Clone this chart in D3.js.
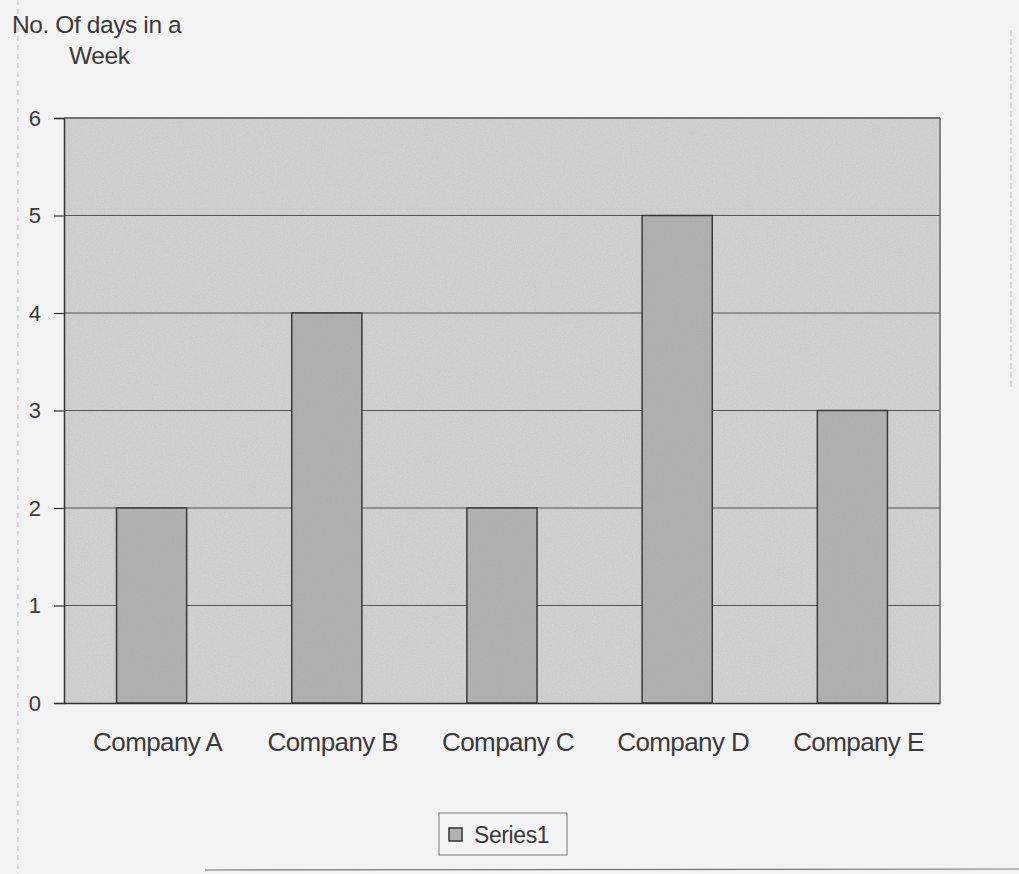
<!DOCTYPE html>
<html>
<head>
<meta charset="utf-8">
<script src="https://cdn.jsdelivr.net/npm/d3@7"></script>
<style>
  body { margin: 0; background: #f3f3f3; }
  svg { display: block; }
  text { font-family: "Liberation Sans", Arial, sans-serif; fill: #3a3a3a; }
</style>
</head>
<body>
<svg width="1019" height="874"></svg>
<script>
// chart data
const companies = ['Company A', 'Company B', 'Company C', 'Company D', 'Company E']
const days = [2, 4, 2, 5, 3]
const yTicks = [0, 1, 2, 3, 4, 5, 6]
const seriesName = 'Series1'

const svg = d3.select('svg')

// plot area box
const plotLeft = 64, plotRight = 940, plotTop = 118, plotBottom = 703

const x = d3.scaleBand()
  .domain(companies)
  .range([plotLeft, plotRight])
  .paddingInner(0.6)
  .paddingOuter(0.3)

const y = d3.scaleLinear()
  .domain([0, 6])
  .range([plotBottom, plotTop])

// faint page edges from the scan
svg.append('line')
  .attr('x1', 18).attr('x2', 18).attr('y1', 0).attr('y2', 874)
  .style('stroke', '#bbb').style('stroke-dasharray', '5,4')
svg.append('line')
  .attr('x1', 205).attr('x2', 1019).attr('y1', 870).attr('y2', 869)
  .style('stroke', '#777').style('stroke-width', 1.2)
svg.append('line')
  .attr('x1', 1011).attr('x2', 1011).attr('y1', 30).attr('y2', 390)
  .style('stroke', '#bbb').style('stroke-dasharray', '6,3')

// noise filter to mimic the photocopy grain
const defs = svg.append('defs')
const grain = defs.append('filter').attr('id', 'grain')
grain.append('feTurbulence')
  .attr('type', 'fractalNoise').attr('baseFrequency', 0.9).attr('numOctaves', 2).attr('result', 'n')
grain.append('feColorMatrix')
  .attr('type', 'matrix')
  .attr('values', '0 0 0 0 0.3  0 0 0 0 0.3  0 0 0 0 0.3  0 0 0 0.25 0')
  .attr('result', 'm')
grain.append('feComposite').attr('in', 'm').attr('in2', 'SourceGraphic').attr('operator', 'in')

// plot background
svg.append('rect')
  .attr('x', plotLeft).attr('y', plotTop)
  .attr('width', plotRight - plotLeft).attr('height', plotBottom - plotTop)
  .style('fill', '#d6d6d6')
svg.append('rect')
  .attr('x', plotLeft).attr('y', plotTop)
  .attr('width', plotRight - plotLeft).attr('height', plotBottom - plotTop)
  .style('fill', '#d6d6d6')
  .attr('filter', 'url(#grain)')

// gridlines
svg.append('g')
  .selectAll('line')
  .data(yTicks.filter(d => d > 0))
  .enter()
  .append('line')
  .attr('x1', plotLeft).attr('x2', plotRight)
  .attr('y1', d => y(d)).attr('y2', d => y(d))
  .style('stroke', '#555').style('stroke-width', 1.2)

// bars
const bars = svg.append('g')
  .selectAll('g.bar')
  .data(companies)
  .enter()
  .append('g')
  .attr('class', 'bar')

bars.append('rect')
  .attr('x', d => x(d))
  .attr('y', (d, i) => y(days[i]))
  .attr('width', x.bandwidth())
  .attr('height', (d, i) => plotBottom - y(days[i]))
  .style('fill', '#b3b3b3')
  .style('stroke', '#333')
  .style('stroke-width', 1.5)
bars.append('rect')
  .attr('x', d => x(d))
  .attr('y', (d, i) => y(days[i]))
  .attr('width', x.bandwidth())
  .attr('height', (d, i) => plotBottom - y(days[i]))
  .style('fill', '#b3b3b3')
  .attr('filter', 'url(#grain)')

// plot frame: top and right edges
svg.append('line')
  .attr('x1', plotLeft).attr('x2', plotRight).attr('y1', plotTop).attr('y2', plotTop)
  .style('stroke', '#666').style('stroke-width', 1.5)
svg.append('line')
  .attr('x1', plotRight).attr('x2', plotRight).attr('y1', plotTop).attr('y2', plotBottom)
  .style('stroke', '#666').style('stroke-width', 1.5)

// y axis
const yAxis = svg.append('g')
  .attr('transform', `translate(${plotLeft},0)`)
  .call(d3.axisLeft(y).tickValues(yTicks).tickFormat(d3.format('d')).tickSize(10).tickPadding(13))
yAxis.select('.domain').style('stroke', '#333').style('stroke-width', 1.5)
yAxis.selectAll('.tick line').style('stroke', '#333').style('stroke-width', 1.2)
yAxis.selectAll('.tick text')
  .style('font-size', '22px')
  .style('fill', '#3a3a3a')

// x axis
const xAxis = svg.append('g')
  .attr('transform', `translate(0,${plotBottom})`)
  .call(d3.axisBottom(x).tickSize(0).tickPadding(30))
xAxis.select('.domain').style('stroke', '#333').style('stroke-width', 1.5)
xAxis.selectAll('.tick text')
  .attr('dx', 6)
  .style('font-size', '26px')
  .style('letter-spacing', '-0.6px')
  .style('fill', '#3a3a3a')

// axis title
svg.append('text')
  .attr('x', 12).attr('y', 33)
  .style('font-size', '24.5px').style('letter-spacing', '-0.4px')
  .text('No. Of days in a')
svg.append('text')
  .attr('x', 69).attr('y', 64)
  .style('font-size', '24.5px').style('letter-spacing', '-0.4px')
  .text('Week')

// legend
const legend = svg.append('g').attr('transform', 'translate(439,813)')
legend.append('rect')
  .attr('width', 128).attr('height', 42)
  .style('fill', '#f4f4f4').style('stroke', '#777')
legend.append('rect')
  .attr('x', 10).attr('y', 15).attr('width', 13).attr('height', 13)
  .style('fill', '#b3b3b3').style('stroke', '#333').style('stroke-width', 1.5)
legend.append('text')
  .attr('x', 35).attr('y', 30)
  .style('font-size', '23px').style('letter-spacing', '-0.4px')
  .text(seriesName)
</script>
</body>
</html>
